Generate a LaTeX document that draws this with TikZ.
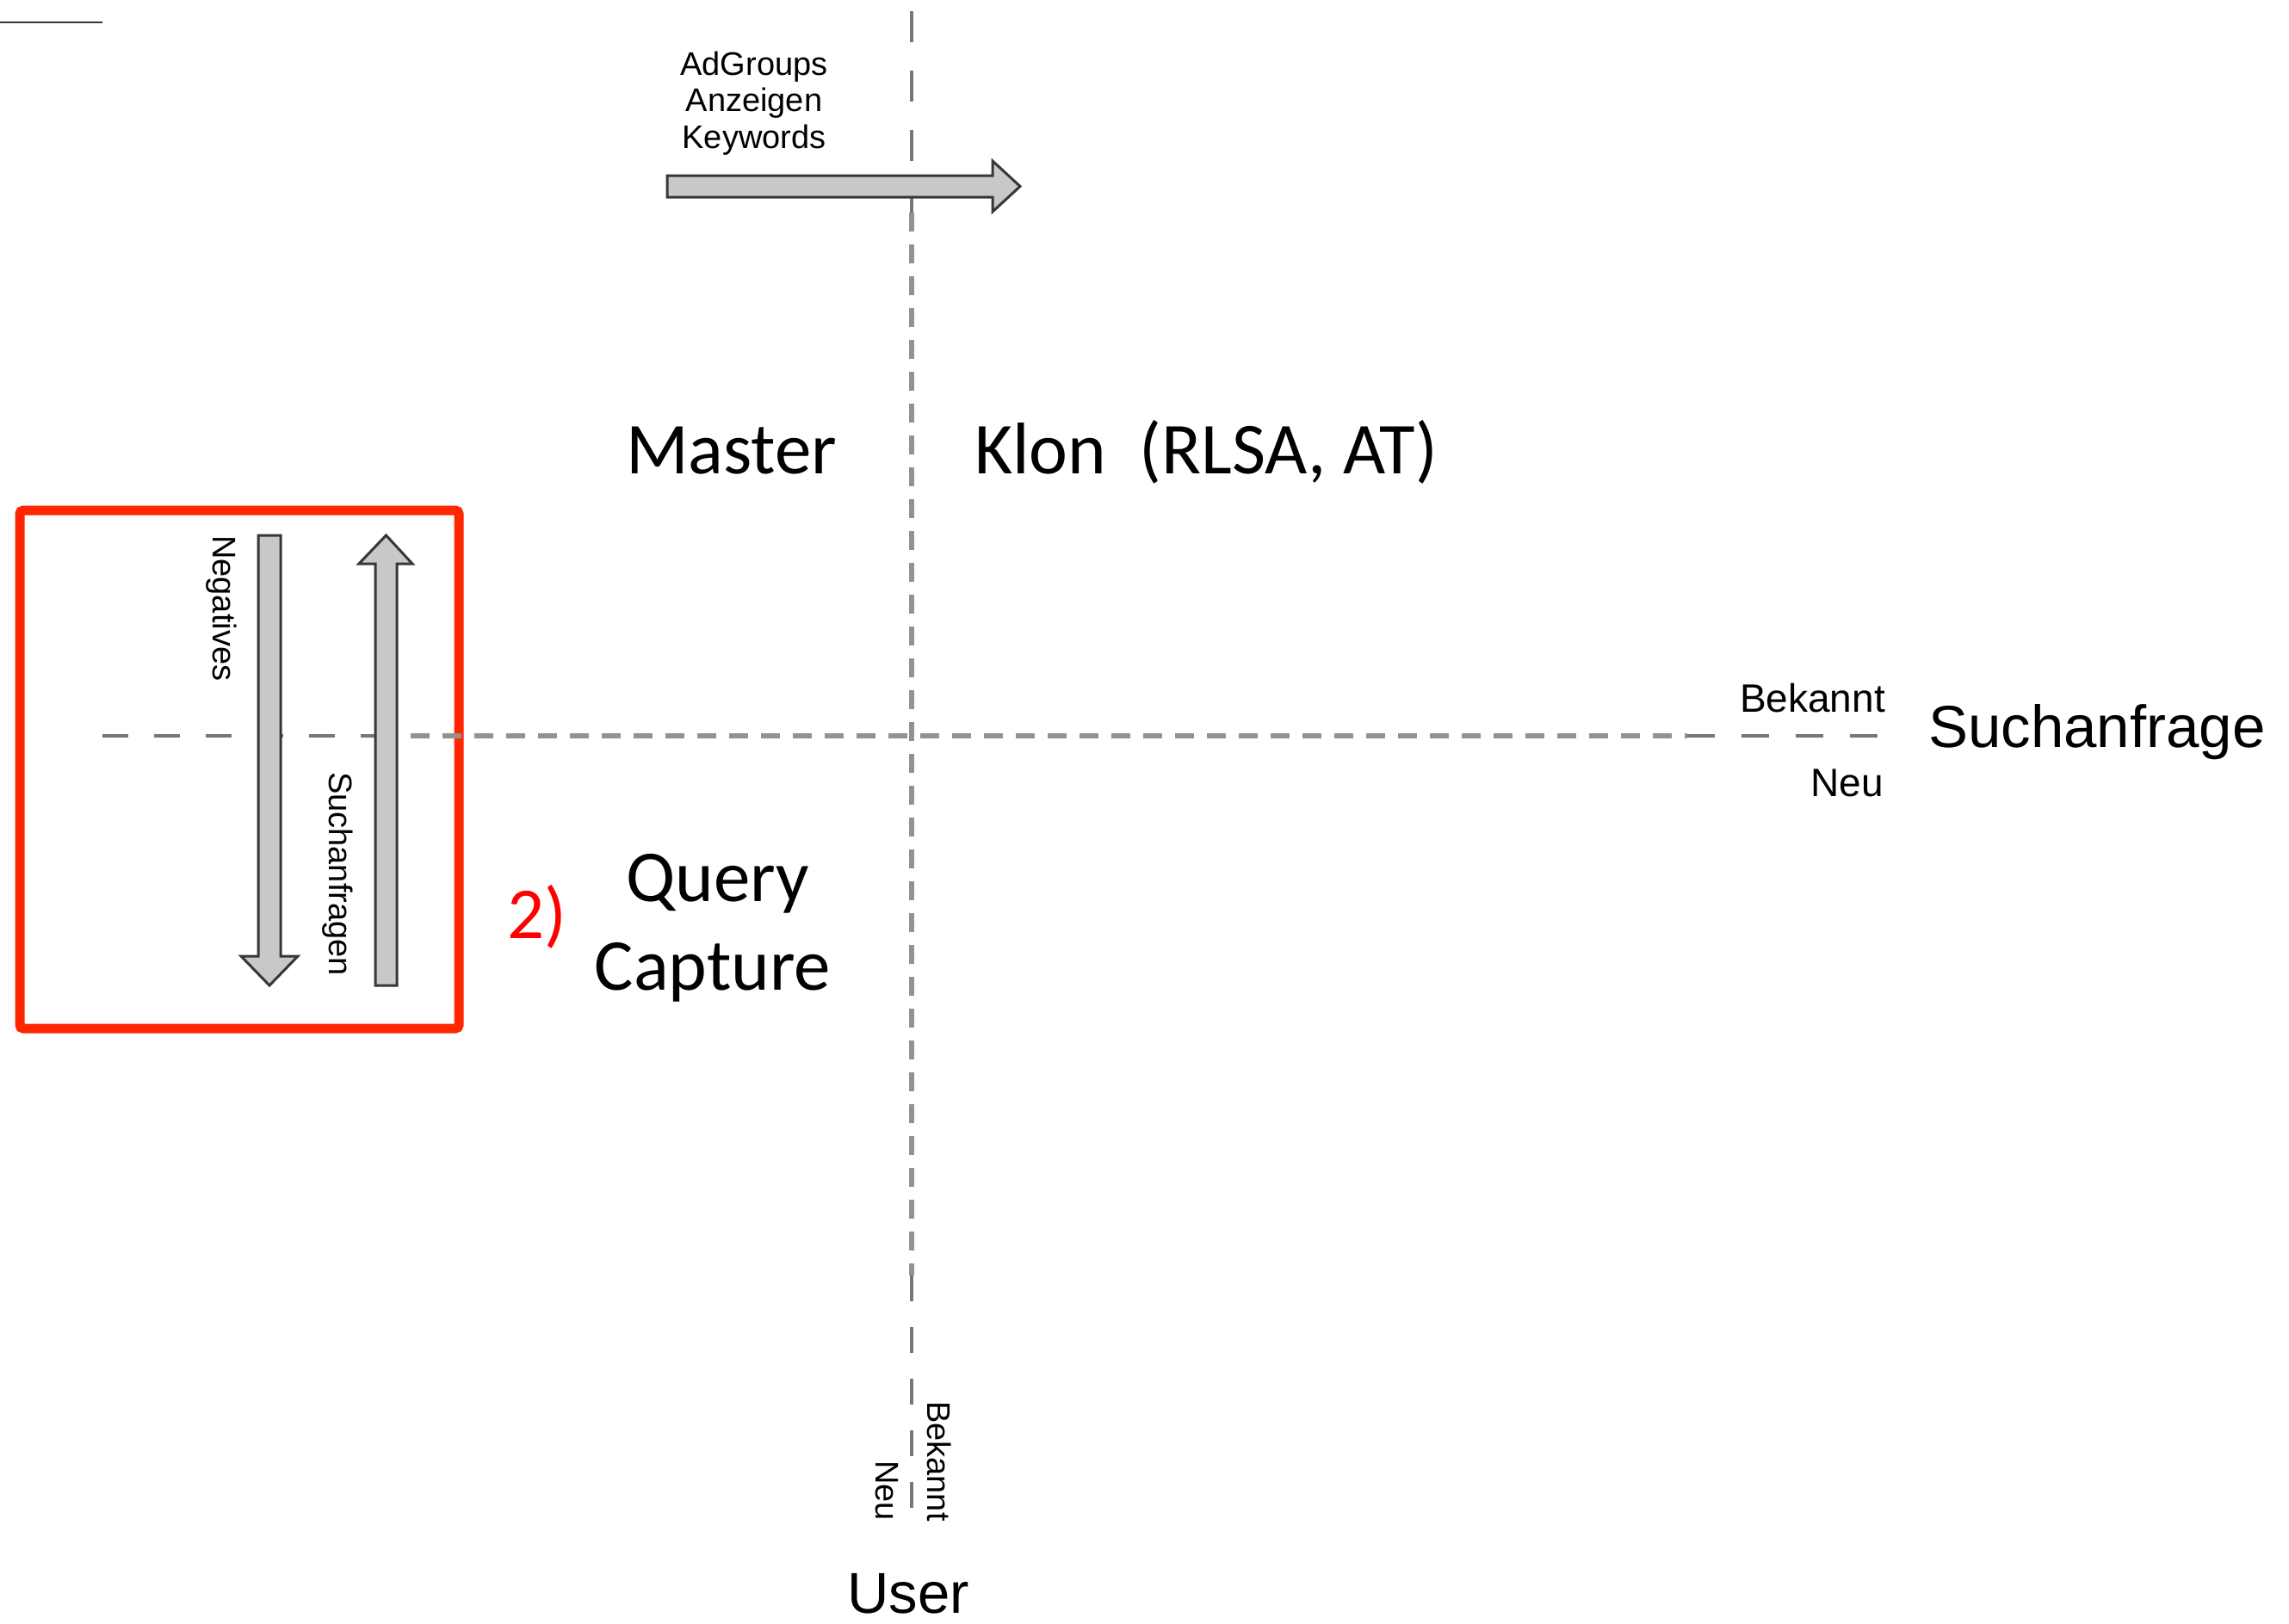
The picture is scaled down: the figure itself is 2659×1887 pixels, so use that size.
\documentclass[tikz,border=0pt]{standalone}
\usepackage{fontspec}
\setmainfont{Carlito}
\newfontfamily\helv{Liberation Sans}
\definecolor{dashmid}{RGB}{146,146,146}
\definecolor{dashout}{RGB}{118,118,118}
\definecolor{boxred}{RGB}{255,38,0}
\definecolor{arrowfill}{RGB}{200,200,200}
\definecolor{arrowline}{RGB}{55,55,55}
\begin{document}
\begin{tikzpicture}[x=1pt,y=-1pt,
  midline/.style={draw=dashmid,line width=6pt,dash pattern={on 22pt off 15pt}},
  outline/.style={draw=dashout,line width=4.5pt,dash pattern={on 31pt off 31pt}},
  blockarrow/.style={draw=arrowline,fill=arrowfill,line width=3pt,line join=miter},
  redbox/.style={draw=boxred,line width=11pt,rounded corners=4pt},
  calib/.style={inner sep=0pt,font=\fontsize{85}{100}\selectfont},
  small/.style={inner sep=0pt,font=\helv\fontsize{38}{44}\selectfont},
  rot/.style={inner sep=0pt,font=\helv\fontsize{38}{44}\selectfont,rotate=-90,anchor=base west},
  mid/.style={inner sep=0pt,font=\helv\fontsize{46}{54}\selectfont},
  big/.style={inner sep=0pt,font=\helv\fontsize{69}{80}\selectfont}]
\useasboundingbox (0,0) rectangle (2659,1887);
\fill[white] (0,0) rectangle (2659,1887);

% top-left short rule
\coordinate (r1) at (0,26);
\coordinate (r2) at (119,26);
\draw[draw=arrowline,line width=2.5pt] (r1) -- (r2);

% red box
\draw[redbox] (23,593) rectangle (533,1195);

% axis coordinates
\coordinate (v0) at (1059,13);
\coordinate (v1) at (1059,247);
\coordinate (v2) at (1059,1482);
\coordinate (v3) at (1059,1762);
\coordinate (h0) at (119,855);
\coordinate (h1) at (477,855);
\coordinate (h2) at (1960,855);
\coordinate (h3) at (2188,855);

% vertical axis
\draw[outline,dash pattern={on 36pt off 33pt}] (v0) -- (v1);
\draw[midline] (v1) -- (v2);
\draw[outline,dash pattern={on 30pt off 30pt}] (v2) -- (v3);
% horizontal axis
\draw[outline,dash pattern={on 30pt off 30pt}] (h0) -- (h1);
\draw[midline] (h1) -- (h2);
\draw[outline,dash pattern={on 32pt off 31pt}] (h2) -- (h3);

% top arrow (right)
\draw[blockarrow] (775,204) -- (1153,204) -- (1153,187) -- (1185,216.5)
  -- (1153,246) -- (1153,229) -- (775,229) -- cycle;
% Negatives arrow (down)
\draw[blockarrow] (300,622) -- (326,622) -- (326,1111) -- (346,1111)
  -- (313,1145) -- (280,1111) -- (300,1111) -- cycle;
% Suchanfragen arrow (up)
\draw[blockarrow] (436,1145) -- (461,1145) -- (461,655) -- (479,655)
  -- (448.5,622) -- (417,655) -- (436,655) -- cycle;

% texts
\node[small,anchor=base] (adg) at (876,87) {AdGroups};
\node[small,anchor=base] (anz) at (876,129.5) {Anzeigen};
\node[small,anchor=base] (kw) at (876,172) {Keywords};

\node[calib,anchor=base west] (master) at (727,550) {Master};
\node[calib,anchor=base west] (klon) at (1132,550) {Klon\ \ (RLSA, AT)};
\node[calib,anchor=base] (query) at (834,1047) {Query};
\node[calib,anchor=base] (capture) at (828,1150) {Capture};
\node[calib,anchor=base west,text=red] (two) at (589,1090) {2)};

\node[mid,anchor=base east] (bek) at (2190,827) {Bekannt};
\node[mid,anchor=base east] (neu) at (2188,925) {Neu};
\node[big,anchor=base west] (such) at (2240,868) {Suchanfrage};
\node[big,anchor=base,font=\helv\fontsize{67}{80}\selectfont] (user) at (1055,1874) {User};

\node[rot] (neg) at (247,622) {Negatives};
\node[rot] (sfr) at (382,897) {Suchanfragen};
\node[rot] (bekb) at (1077,1628) {Bekannt};
\node[rot] (neub) at (1017,1697) {Neu};
\end{tikzpicture}
\end{document}
